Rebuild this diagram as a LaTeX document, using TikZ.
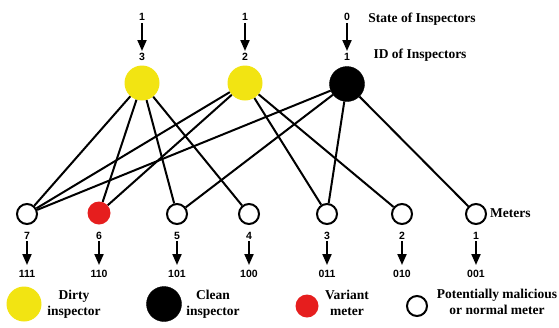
\documentclass[tikz,border=0pt]{standalone}
\usepackage{fontspec}
\setmainfont{Liberation Serif}
\newfontfamily\numfont{Liberation Sans}
\usetikzlibrary{arrows.meta}
\definecolor{insyellow}{RGB}{242,228,18}
\definecolor{meterred}{RGB}{230,30,30}
\tikzset{
  dirty/.style={circle,fill=insyellow,minimum size=35pt,inner sep=0pt},
  clean/.style={circle,fill=black,draw=black,minimum size=35pt,inner sep=0pt},
  openmeter/.style={circle,draw=black,line width=2pt,fill=white,minimum size=20pt,inner sep=0pt},
  variant/.style={circle,fill=meterred,minimum size=23pt,inner sep=0pt},
  num/.style={font=\numfont\bfseries\fontsize{10.5}{11}\selectfont,inner sep=0pt},
  lbl/.style={font=\bfseries\fontsize{13.5}{16}\selectfont,inner sep=0pt,align=center},
  edge/.style={line width=2pt},
  arr/.style={line width=2pt,-{Triangle[width=9pt,length=11pt]}},
}
\begin{document}
\begin{tikzpicture}[x=1pt,y=-1pt]
\useasboundingbox (0,0) rectangle (559,327);
% edge end nodes first (positions)
\node[dirty] (i3) at (142,83) {};
\node[dirty] (i2) at (245,83) {};
\node[clean] (i1) at (347,84) {};
\node[openmeter] (m7) at (27,214) {};
\node[variant] (m6) at (99,213) {};
\node[openmeter] (m5) at (177,214) {};
\node[openmeter] (m4) at (249,214) {};
\node[openmeter] (m3) at (327,214) {};
\node[openmeter] (m2) at (402,214) {};
\node[openmeter] (m1) at (476,214) {};
% edges
\draw[edge] (i3) -- (m7);
\draw[edge] (i3) -- (m6);
\draw[edge] (i3) -- (m5);
\draw[edge] (i3) -- (m4);
\draw[edge] (i2) -- (m7);
\draw[edge] (i2) -- (m6);
\draw[edge] (i2) -- (m3);
\draw[edge] (i2) -- (m2);
\draw[edge] (i1) -- (m7);
\draw[edge] (i1) -- (m5);
\draw[edge] (i1) -- (m3);
\draw[edge] (i1) -- (m1);
% inspector labels
\node[num] (s3) at (142,17) {1};
\node[num] (d3) at (142,57) {3};
\node[num] (s2) at (245,17) {1};
\node[num] (d2) at (245,57) {2};
\node[num] (s1) at (347,17) {0};
\node[num] (d1) at (347,57) {1};
\coordinate (a3s) at (142,23); \coordinate (a3e) at (142,51);
\coordinate (a2s) at (245,23); \coordinate (a2e) at (245,51);
\coordinate (a1s) at (347,23); \coordinate (a1e) at (347,51);
\draw[arr] (a3s) -- (a3e);
\draw[arr] (a2s) -- (a2e);
\draw[arr] (a1s) -- (a1e);
\node[lbl] (tstate) at (422,19) {State of Inspectors};
\node[lbl] (tid) at (420,55) {ID of Inspectors};
\node[lbl,anchor=west] (tmeters) at (490,213) {Meters};
% meter ids and codes
\foreach \n/\x/\c in {7/27/111,6/99/110,5/177/101,4/249/100,3/327/011,2/402/010,1/476/001}{
  \node[num] (id\n) at (\x,236) {\n};
  \coordinate (ms\n) at (\x,241);
  \coordinate (me\n) at (\x,265);
  \draw[arr] (ms\n) -- (me\n);
  \node[num] (code\n) at (\x,274) {\c};
}
% legend
\node[dirty] (ldirty) at (24,304) {};
\node[lbl] (tdirty) at (74,304) {Dirty\\inspector};
\node[clean] (lclean) at (164,304) {};
\node[lbl] (tclean) at (213,304) {Clean\\inspector};
\node[variant] (lvar) at (307,306) {};
\node[lbl] (tvar) at (347,303) {Variant\\meter};
\node[openmeter] (lopen) at (417,306) {};
\node[lbl] (topen) at (497,302) {Potentially malicious\\or normal meter};
\end{tikzpicture}
\end{document}
